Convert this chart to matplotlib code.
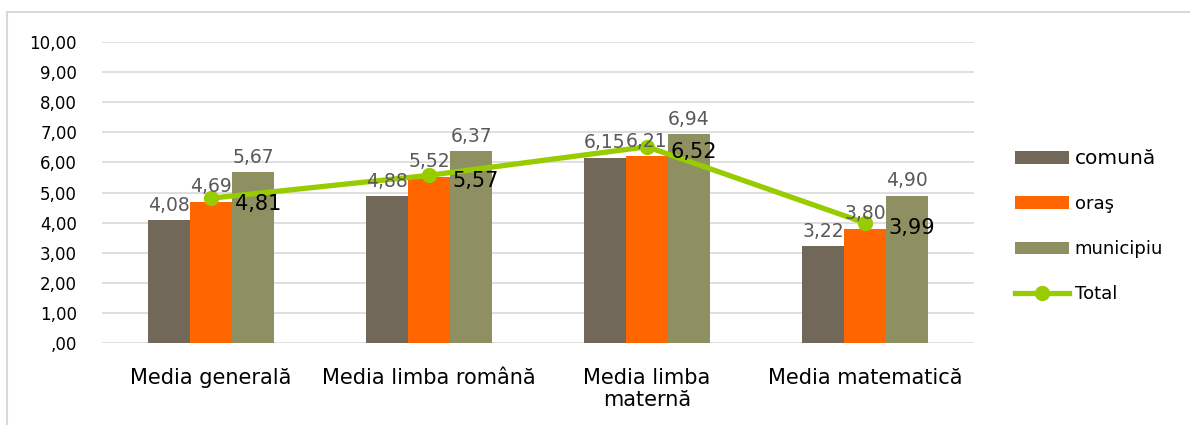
import numpy as np
import matplotlib.pyplot as plt
from matplotlib.patches import Rectangle

plt.rcParams['font.family'] = ['DejaVu Sans']

categories = ['Media generală', 'Media limba română', 'Media limba\nmaternă', 'Media matematică']
comuna = [4.08, 4.88, 6.15, 3.22]
oras = [4.69, 5.52, 6.21, 3.80]
municipiu = [5.67, 6.37, 6.94, 4.90]
total = [4.81, 5.57, 6.52, 3.99]
yticks = [0, 1, 2, 3, 4, 5, 6, 7, 8, 9, 10]


def fmt(v):
    s = '%.2f' % v
    s = s.replace('.', ',')
    if s.startswith('0,'):
        s = s[1:]
    return s


fig = plt.figure(figsize=(11.9, 4.25), dpi=100)
fig.patches.append(Rectangle((7 / 1190, -0.1), 1.2, 1.1 - 12 / 425, transform=fig.transFigure,
                             fill=False, edgecolor='#D9D9D9', linewidth=1.5))
ax = fig.add_axes([102 / 1190, 1 - 343 / 425, 872 / 1190, 301 / 425])

x = np.arange(len(categories))
w = 0.193
c1, c2, c3, c4 = '#72685A', '#FF6600', '#8F9062', '#99CC00'
b1 = ax.bar(x - w, comuna, w, color=c1, label='comună', zorder=2)
b2 = ax.bar(x, oras, w, color=c2, label='oraş', zorder=2)
b3 = ax.bar(x + w, municipiu, w, color=c3, label='municipiu', zorder=2)
ln, = ax.plot(x, total, color=c4, lw=3.8, marker='o', ms=10, label='Total', zorder=3)

for bars in (b1, b2, b3):
    for r in bars:
        ax.annotate(fmt(r.get_height()), (r.get_x() + r.get_width() / 2, r.get_height()),
                    xytext=(0, 4), textcoords='offset points', ha='center', va='bottom',
                    fontsize=13.5, color='#595959', zorder=4)
for xi, v in zip(x, total):
    ax.annotate(fmt(v), (xi, v), xytext=(17, -4), textcoords='offset points',
                ha='left', va='center', fontsize=15, color='black', zorder=4)

ax.set_xlim(-0.5, len(categories) - 0.5)
ax.set_ylim(0, 10)
ax.set_yticks(yticks)
ax.set_yticklabels([fmt(v) for v in yticks], fontsize=12)
ax.set_xticks(x)
ax.set_xticklabels(categories, fontsize=15, linespacing=1.1)
ax.tick_params(length=0)
ax.tick_params(axis='y', pad=18)
ax.tick_params(axis='x', pad=18)
ax.grid(axis='y', color='#D9D9D9', lw=1.2, zorder=0)
for s in ax.spines.values():
    s.set_visible(False)

leg = fig.legend(handles=[b1, b2, b3, ln], loc='upper left', bbox_to_anchor=(1015 / 1190, 1 - 149 / 425),
                 frameon=False, fontsize=13, labelspacing=1.5, handlelength=3.0, handletextpad=0.3,
                 borderpad=0, borderaxespad=0)
leg.get_texts()[0].set_fontsize(14.5)

fig.savefig('out.png', dpi=100)
